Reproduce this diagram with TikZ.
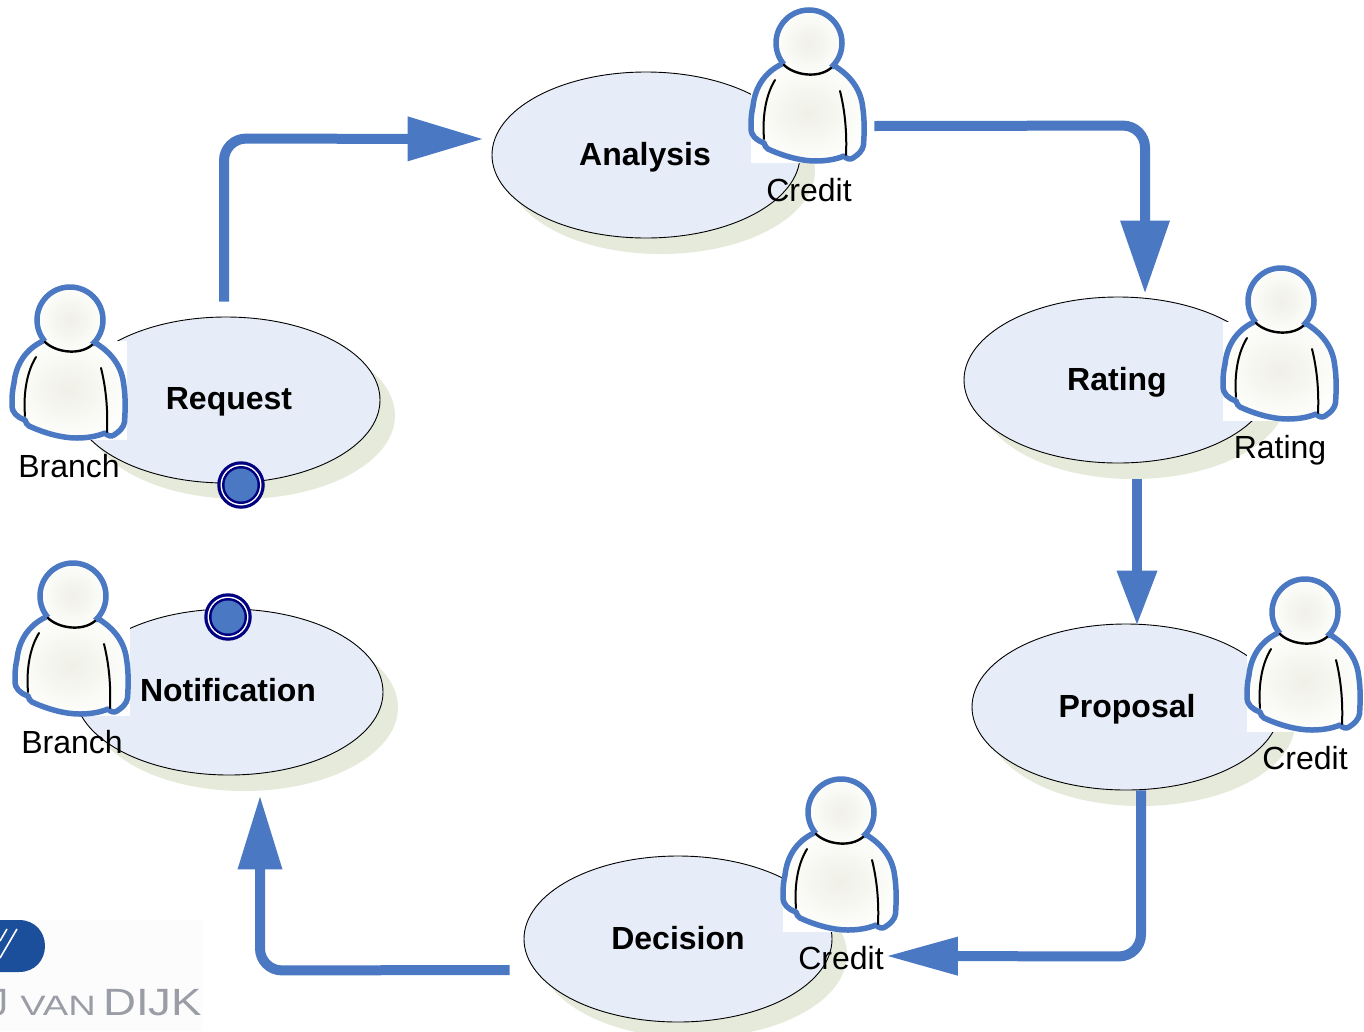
\documentclass[tikz,border=0pt]{standalone}
\usepackage{fontspec}
\setmainfont{Liberation Sans}
\usetikzlibrary{arrows.meta,calc,shapes.geometric}
\definecolor{flow}{HTML}{4A78C2}
\definecolor{ellfill}{HTML}{E7EDF8}
\definecolor{ellshadow}{HTML}{E6EADB}
\definecolor{navyring}{HTML}{000080}
\definecolor{logoblue}{HTML}{1B4F9C}
\definecolor{logogrey}{HTML}{9A9DA5}
\definecolor{skinin}{HTML}{F0F0E8}
\definecolor{skinout}{HTML}{FDFDFB}
\tikzset{
  x=1pt,y=-1pt,
  task/.style={ellipse,draw=black,line width=0.9pt,fill=ellfill,minimum width=308pt,minimum height=166pt,inner sep=0pt},
  shade el/.style={ellipse,fill=ellshadow,minimum width=308pt,minimum height=167pt,inner sep=0pt},
  tasklabel/.style={font=\fontsize{32}{36}\selectfont\bfseries,inner sep=0pt},
  role/.style={font=\fontsize{32}{36}\selectfont,inner sep=0pt},
  flowline/.style={draw=flow,line width=10pt,rounded corners=22pt},
  skin/.style={inner color=skinin,outer color=skinout},
  logoletters/.style={inner sep=0pt,text=logogrey,anchor=base west},
}
\newcommand{\actorbody}{(-27,21) .. controls (-44,29) and (-54,44) .. (-56,63)
      .. controls (-58,72) and (-58,78) .. (-58,85)
      .. controls (-58,93) and (-53,97) .. (-45,100)
      .. controls (-44,103) and (-43,105) .. (-41,106)
      .. controls (-28,112) and (-10,118) .. (7,118)
      .. controls (18,118) and (28,116) .. (35,113)
      .. controls (38,116) and (41,117) .. (44,115)
      .. controls (49,112) and (54,107) .. (54.5,102)
      .. controls (55.5,88) and (55.5,75) .. (53.5,63)
      .. controls (51.5,46) and (41,32) .. (24,22)}
\newcommand{\actor}[1]{%
  \begin{scope}[shift={(#1)}]
    \fill[white] (-58,21) rectangle (57,120);
    \path[skin] \actorbody -- cycle;
    \draw[flow,line width=5.5pt,line join=round] \actorbody;
    \draw[black,line width=2pt,line cap=round] (-34,37) .. controls (-42,50) and (-47,70) .. (-45,96);
    \draw[black,line width=2pt,line cap=round] (31,48) .. controls (36,68) and (38,90) .. (37,112);
    \path[skin] (0,0) circle (33);
    \begin{scope}
      \clip (0,0) -- (-42,36) -- (-80,36) -- (-80,-80) -- (80,-80) -- (80,36) -- (36,40) -- cycle;
      \draw[flow,line width=5.5pt] (0,0) circle (33);
    \end{scope}
    \draw[black,line width=2.4pt,line cap=round] (-25,22) .. controls (-15,32) and (9,36) .. (22,25);
  \end{scope}}
\begin{document}
\begin{tikzpicture}
\useasboundingbox (0,0) rectangle (1364,1031);
\fill[white] (0,0) rectangle (1364,1031);
\fill[black!1!white] (0,920) rectangle (202,1031);
% logo
\fill[logoblue] (0,920) -- (19,920) .. controls (35,920) and (45,932) .. (45,946) .. controls (45,960) and (35,972) .. (19,972) -- (0,972) -- cycle;
\draw[white,line width=1.6pt] (17,929) -- (0,958);
\draw[white,line width=1.6pt] (7,929) -- (0,941);
\node[logoletters,anchor=base east] (logoj) at (9,1015) {\fontsize{38}{40}\selectfont J};
\node[logoletters,xscale=1.36] (logovan) at (20,1015) {\fontsize{28}{30}\selectfont VAN};
\node[logoletters,xscale=1.2] (logodijk) at (103,1015) {\fontsize{38}{40}\selectfont DIJK};
% shadows
\node[shade el] (s1) at (241,415.5) {};
\node[shade el] (s2) at (661,170.5) {};
\node[shade el] (s3) at (1133,395.5) {};
\node[shade el] (s4) at (1141,722.5) {};
\node[shade el] (s5) at (693,954.5) {};
\node[shade el] (s6) at (244,707.5) {};
% tasks
\node[task] (req) at (226,400) {};
\node[task] (ana) at (646,155) {};
\node[task] (rat) at (1118,380) {};
\node[task] (pro) at (1126,707) {};
\node[task] (dec) at (678,939) {};
\node[task] (not) at (229,692) {};
\node[tasklabel] (treq) at (229,401.5) {Request};
\node[tasklabel] (tana) at (645,157) {Analysis};
\node[tasklabel] (trat) at (1117,382) {Rating};
\node[tasklabel] (tpro) at (1127,709) {Proposal};
\node[tasklabel] (tdec) at (678,938) {Decision};
\node[tasklabel] (tnot) at (228,690) {Notification};
% actors
\actor{70,320}
\actor{809,43}
\actor{1281,301}
\actor{1305,612}
\actor{841,812}
\actor{73,596}
\node[role] (lb1) at (69,466) {Branch};
\node[role] (lb2) at (809,190) {Credit};
\node[role] (lb3) at (1280,450) {Rating};
\node[role] (lb4) at (1305,758) {Credit};
\node[role] (lb5) at (841,958) {Credit};
\node[role] (lb6) at (72,742) {Branch};
% start/end events
\node[circle,fill=navyring,minimum size=47.5pt,inner sep=0pt] (ev1o) at (241,485) {};
\node[circle,fill=white,minimum size=41pt,inner sep=0pt] (ev1w) at (241,485) {};
\node[circle,fill=navyring,minimum size=38pt,inner sep=0pt] (ev1n) at (241,485) {};
\node[circle,fill=flow,minimum size=33pt,inner sep=0pt] (ev1) at (241,485) {};
\node[circle,fill=navyring,minimum size=47.5pt,inner sep=0pt] (ev2o) at (228,617) {};
\node[circle,fill=white,minimum size=41pt,inner sep=0pt] (ev2w) at (228,617) {};
\node[circle,fill=navyring,minimum size=38pt,inner sep=0pt] (ev2n) at (228,617) {};
\node[circle,fill=flow,minimum size=33pt,inner sep=0pt] (ev2) at (228,617) {};
% connectors
\draw[flowline,-{Triangle[length=76pt,width=42pt]}]
  ($(req.north)+(-2,-15)$) -- ($(req.north)+(-2,-178)$) -- ($(ana.west)+(-8,-16)$);
\draw[flowline,-{Triangle[length=73pt,width=47pt]}]
  ($(ana.east)+(74,-29)$) -- ($(rat.north)+(27,-171)$) -- ($(rat.north)+(27,-3)$);
\draw[flowline,-{Triangle[length=55pt,width=38pt]}]
  ($(rat.south)+(19,16)$) -- ($(pro.north)+(11,2)$);
\draw[flowline,-{Triangle[length=72pt,width=36pt]}]
  ($(pro.south)+(15,0)$) -- ($(pro.south)+(15,166)$) -- ($(lb5.east)+(2,-2)$);
\draw[flowline,-{Triangle[length=74pt,width=42pt]}]
  ($(dec.west)+(-14,31)$) -- ($(not.south)+(31,195)$) -- ($(not.south)+(31,20)$);
\end{tikzpicture}
\end{document}
